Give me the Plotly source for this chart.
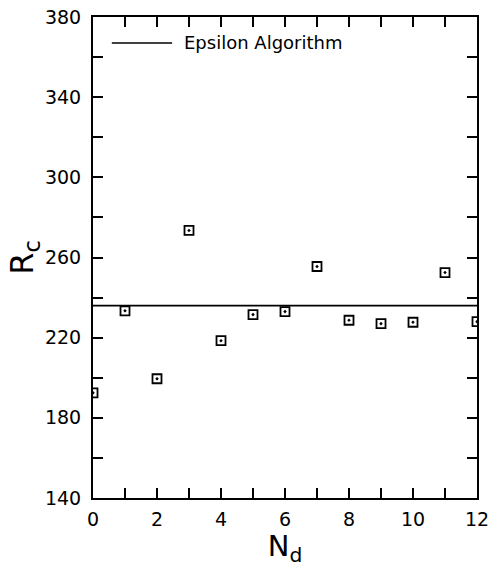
import plotly.graph_objects as go

nd = [0, 1, 2, 3, 4, 5, 6, 7, 8, 9, 10, 11, 12]
rc = [192.5, 233.4, 199.5, 273.5, 218.5, 231.5, 233.0, 255.5, 228.7, 227.0, 227.7, 252.5, 228.0]
eps_x = [0, 12]
eps_y = [236, 236]
legend_label = "Epsilon Algorithm"

FONT = "DejaVu Sans"

fig = go.Figure()
fig.add_trace(go.Scatter(x=eps_x, y=eps_y, mode="lines",
                         line=dict(color="black", width=1.6), showlegend=False))
fig.add_trace(go.Scatter(x=nd, y=rc, mode="markers",
                         marker=dict(symbol="square-open-dot", size=9, color="black",
                                     line=dict(width=1.8, color="black")),
                         showlegend=False))

# legend drawn as a line sample + text
fig.add_shape(type="line", xref="paper", yref="paper", x0=0.049, x1=0.206, y0=0.946, y1=0.946,
              line=dict(color="black", width=1.6))
fig.add_annotation(text=legend_label, xref="paper", yref="paper", x=0.232, y=0.946,
                   xanchor="left", yanchor="middle", showarrow=False,
                   font=dict(family=FONT, size=18, color="black"))

axis_common = dict(showgrid=False, zeroline=False, showline=True, linecolor="black", linewidth=2,
                   mirror="ticks", ticks="inside", ticklen=10, tickwidth=1.5, tickcolor="black",
                   automargin=False,
                   tickfont=dict(family=FONT, size=19, color="black"))

fig.update_xaxes(range=[0, 12], tickvals=[0, 2, 4, 6, 8, 10, 12],
                 minor=dict(dtick=1, ticks="inside", ticklen=10, tickwidth=1.5, tickcolor="black"),
                 title=dict(text="N<sub>d</sub>", font=dict(family=FONT, size=29, color="black"), standoff=6),
                 ticklabelstandoff=3,
                 **axis_common)
fig.update_yaxes(range=[140, 380], tickvals=[140, 180, 220, 260, 300, 340, 380],
                 minor=dict(dtick=20, ticks="inside", ticklen=10, tickwidth=1.5, tickcolor="black"),
                 title=dict(text="R<sub>c</sub>", font=dict(family=FONT, size=32, color="black"), standoff=0),
                 ticklabelstandoff=6,
                 **axis_common)

fig.update_layout(width=490, height=567, margin=dict(l=93, r=13, t=17, b=69),
                  paper_bgcolor="white", plot_bgcolor="white")

fig.write_html("out.html")
